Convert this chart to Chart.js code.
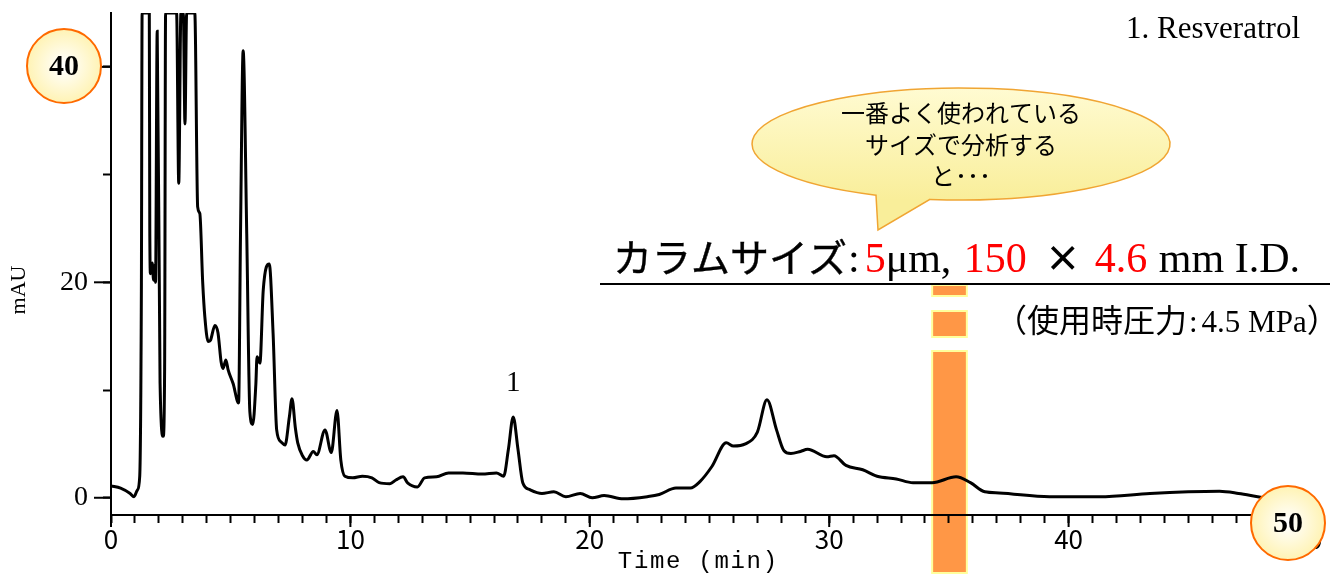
<!DOCTYPE html>
<html lang="ja">
<head>
<meta charset="utf-8">
<title>Resveratrol chromatogram</title>
<script src="https://cdn.jsdelivr.net/npm/chart.js@4.4.1/dist/chart.umd.min.js"></script>
<style>
  html, body { margin: 0; padding: 0; background: #fff; }
  #wrap { width: 1335px; height: 574px; position: relative; }
</style>
</head>
<body>
<div id="wrap"><canvas id="chromChart" width="1335" height="574"></canvas></div>
<script>
// retention time (min) / absorbance (mAU)
const timeMin = [
  0.0, 0.4, 0.8, 0.96, 1.1, 1.2, 1.27, 1.3, 1.6, 1.62, 1.65, 1.72, 1.78, 1.83, 1.86,
  1.93, 2.05, 2.18, 2.24, 2.28, 2.74, 2.83, 2.92, 3.02, 3.09, 3.16, 3.5, 3.62, 3.71,
  3.83, 3.92, 4.06, 4.15, 4.34, 4.47, 4.6, 4.68, 4.8, 4.89, 5.1, 5.33, 5.41, 5.52,
  5.67, 5.8, 5.92, 6.05, 6.1, 6.22, 6.36, 6.61, 6.77, 6.92, 7.1, 7.27, 7.45, 7.56,
  7.7, 7.8, 8.0, 8.18, 8.45, 8.6, 8.94, 9.2, 9.44, 9.6, 9.77, 10.1, 10.5, 10.9, 11.2,
  11.65, 11.9, 12.2, 12.4, 12.8, 13.1, 13.6, 14.1, 14.7, 15.5, 16.1, 16.4, 16.6, 16.8,
  17.0, 17.2, 17.5, 18.0, 18.5, 19.0, 19.6, 20.1, 20.6, 21.4, 22.4, 22.9, 23.6, 24.2,
  24.6, 25.1, 25.7, 26.0, 26.5, 27.0, 27.4, 27.8, 28.1, 28.4, 28.8, 29.1, 29.9, 30.2,
  30.7, 31.4, 32.0, 32.8, 33.5, 34.3, 35.3, 35.9, 36.5, 37.1, 39.2, 41.3, 43.4, 45.0,
  46.3, 47.1, 47.9, 49.0, 50.0
];
const absorbance = [
  1.1, 0.9, 0.4, 0.1, 0.7, 2.0, 20, 45, 45, 25, 20.8, 21.8, 20.2, 21.6, 20,
  43.3, 10.6, 5.7, 12, 45, 45, 29.2, 45, 45, 34.7, 45, 45, 27, 26.4,
  20, 16.8, 14.5, 14.6, 16, 15.3, 12.6, 12, 12.8, 11.9, 10.6, 8.8, 24.5, 41.5,
  24.5, 8, 6.8, 10.5, 13.1, 12.5, 19.3, 21.7, 15.3, 6.3, 5.2, 4.9, 7.5, 9.2,
  6.5, 5.1, 3.9, 3.5, 4.3, 4.0, 6.3, 4.2, 8.1, 3.5, 2.0, 1.85, 2.0, 1.85, 1.4,
  1.3, 1.65, 1.95, 1.35, 1.0, 1.85, 1.95, 2.3, 2.3, 2.2, 2.3, 2.0, 4.5, 7.5,
  4.5, 1.4, 0.75, 0.4, 0.55, 0.1, 0.4, 0.0, 0.2, -0.1, 0.1, 0.3, 0.9, 0.9,
  1.5, 2.9, 5.1, 4.8, 5.0, 6.1, 9.1, 6.3, 4.4, 4.1, 4.3, 4.5, 3.8, 3.9,
  3.0, 2.6, 2.0, 1.75, 1.4, 1.4, 1.95, 1.4, 0.55, 0.45, 0.1, 0.1, 0.4, 0.55,
  0.6, 0.4, 0.1, -0.3, -0.6
];
const xTicks = [0, 10, 20, 30, 40, 50];
const yTicks = [0, 20, 40];
const peakLabels = [{ t: 16.8, v: 7.5, text: '1' }];
const bandFrom = 34.3, bandTo = 35.75;   // highlighted time window

const JP = '"Noto Sans CJK JP", sans-serif';
const SERIF = '"Liberation Serif", "Times New Roman", serif';
const RED = '#ff0000';

function line(ctx, x0, y0, x1, y1) {
  ctx.beginPath(); ctx.moveTo(x0, y0); ctx.lineTo(x1, y1); ctx.stroke();
}

// draws text pieces one after another, each with its own font/colour
function drawRuns(ctx, runs, x, y) {
  runs.forEach(r => {
    x += r.before || 0;
    ctx.font = r.font;
    ctx.fillStyle = r.color || '#000';
    ctx.fillText(r.text, x, y);
    if (r.heavy) {
      ctx.strokeStyle = r.color || '#000';
      ctx.lineWidth = r.heavy;
      ctx.strokeText(r.text, x, y);
    }
    x += ctx.measureText(r.text).width + (r.after || 0);
  });
  return x;
}

function badge(ctx, cx, cy, text) {
  const g = ctx.createRadialGradient(cx, cy, 2, cx, cy, 37);
  g.addColorStop(0, '#ffffff');
  g.addColorStop(1, '#fff3b4');
  ctx.beginPath();
  ctx.arc(cx, cy, 37, 0, Math.PI * 2);
  ctx.fillStyle = g;
  ctx.fill();
  ctx.lineWidth = 2;
  ctx.strokeStyle = '#ff6a00';
  ctx.stroke();
  ctx.fillStyle = '#000';
  ctx.font = 'bold 30px ' + SERIF;
  ctx.textAlign = 'center';
  ctx.textBaseline = 'middle';
  ctx.fillText(text, cx, cy + 1);
}

// slide decorations: band, long ticks, callouts
const slideDecor = {
  id: 'slideDecor',
  beforeDraw(chart) {
    const { ctx, scales: { x } } = chart;
    const x0 = x.getPixelForValue(bandFrom), x1 = x.getPixelForValue(bandTo);
    ctx.save();
    [[284, 297], [310, 338], [350, 574]].forEach(([a, b]) => {
      ctx.fillStyle = '#ffff9c';
      ctx.fillRect(x0 - 1, a, x1 - x0 + 2, b - a);
      ctx.fillStyle = '#ff9746';
      ctx.fillRect(x0 + 1, a + 2, x1 - x0 - 2, b - a - 4);
    });
    ctx.restore();
  },
  beforeDatasetsDraw(chart) {
    const { ctx, scales: { x, y } } = chart;
    ctx.save();
    ctx.strokeStyle = '#000';
    ctx.lineWidth = 2;
    xTicks.forEach(v => { const px = x.getPixelForValue(v); line(ctx, px, x.top, px, x.top + 12); });
    yTicks.forEach(v => { const py = y.getPixelForValue(v); line(ctx, y.right - 17, py, y.right, py); });
    ctx.restore();
  },
  afterDraw(chart) {
    const { ctx, scales: { x, y } } = chart;
    ctx.save();

    // axis titles
    ctx.fillStyle = '#000';
    ctx.textAlign = 'center';
    ctx.textBaseline = 'middle';
    ctx.font = '24px "Liberation Mono", monospace';
    'Time (min)'.split('').forEach((c, i) => ctx.fillText(c, 625 + 16.1 * i, 562));
    ctx.save();
    ctx.translate(19, 290);
    ctx.rotate(-Math.PI / 2);
    ctx.font = '22px ' + SERIF;
    ctx.fillText('mAU', 0, 0);
    ctx.restore();

    // peak number
    ctx.font = '29px ' + SERIF;
    ctx.textBaseline = 'alphabetic';
    peakLabels.forEach(p => {
      ctx.fillText(p.text, x.getPixelForValue(p.t), y.getPixelForValue(p.v) - 26);
    });

    ctx.font = '31px ' + SERIF;
    ctx.textAlign = 'right';
    ctx.fillText('1. Resveratrol', 1300, 38);

    // column size line
    ctx.textAlign = 'left';
    drawRuns(ctx, [
      { text: 'カラムサイズ', font: '39px ' + JP, heavy: 0.4 },
      { text: ':', font: '42px ' + SERIF, before: 1, after: 5 },
      { text: '5', font: '42px ' + SERIF, color: RED },
      { text: 'μm, ', font: '42px ' + SERIF, after: 2 },
      { text: '150', font: '42px ' + SERIF, color: RED, after: 18 },
      { text: '×', font: 'bold 36px ' + JP, after: 14 },
      { text: '4.6', font: '42px ' + SERIF, color: RED, after: 1 },
      { text: ' mm I.D.', font: '42px ' + SERIF }
    ], 613, 272);
    ctx.strokeStyle = '#000';
    ctx.lineWidth = 2;
    line(ctx, 600, 284, 1330, 284);

    drawRuns(ctx, [
      { text: '（使用時圧力', font: '32px ' + JP },
      { text: ':', font: '31px ' + SERIF, before: 2, after: 4 },
      { text: '4.5 MPa', font: '31px ' + SERIF },
      { text: '）', font: '32px ' + JP }
    ], 995, 332);

    // speech bubble
    const cx = 961, cy = 144, rx = 209, ry = 56;
    const aR = Math.acos((930 - cx) / rx), aL = Math.acos((876 - cx) / rx);
    ctx.beginPath();
    ctx.ellipse(cx, cy, rx, ry, 0, aR, aL, true);
    ctx.lineTo(878, 230);
    ctx.closePath();
    const bg = ctx.createLinearGradient(0, cy - ry, 0, cy + ry);
    bg.addColorStop(0, '#fffbd2');
    bg.addColorStop(1, '#f9ee9a');
    ctx.fillStyle = bg;
    ctx.fill();
    ctx.lineWidth = 1.5;
    ctx.strokeStyle = '#f0a533';
    ctx.stroke();
    ctx.fillStyle = '#000';
    ctx.textAlign = 'center';
    ctx.textBaseline = 'middle';
    ctx.font = '24px ' + JP;
    ctx.fillText('一番よく使われている', 961, 113);
    ctx.fillText('サイズで分析する', 961, 145);
    ctx.fillText('と･･･', 961, 176);

    badge(ctx, 64, 66, '40');
    badge(ctx, 1288, 523, '50');
    ctx.restore();
  }
};

new Chart(document.getElementById('chromChart'), {
  type: 'line',
  data: {
    datasets: [{
      label: 'Resveratrol',
      data: timeMin.map((t, i) => ({ x: t, y: absorbance[i] })),
      borderColor: '#000',
      borderWidth: 3,
      pointRadius: 0,
      cubicInterpolationMode: 'monotone',
      fill: false
    }]
  },
  options: {
    responsive: false,
    animation: false,
    layout: { padding: { top: 13, right: 27, left: 0, bottom: 0 } },
    plugins: { legend: { display: false }, tooltip: { enabled: false } },
    scales: {
      x: {
        type: 'linear',
        min: 0,
        max: 50,
        afterBuildTicks: s => { s.ticks = Array.from({ length: 51 }, (_, i) => ({ value: i })); },
        afterFit: s => { s.height = 59; s.paddingLeft = 0; s.paddingRight = 0; },
        ticks: {
          autoSkip: false,
          maxRotation: 0,
          padding: 1,
          color: '#000',
          font: { family: JP, size: 26 },
          callback: v => xTicks.includes(v) ? String(v) : ''
        },
        grid: { drawOnChartArea: false, tickLength: 8, tickWidth: 2, color: '#000' },
        border: { color: '#000', width: 2 }
      },
      y: {
        min: -1.6,
        max: 45,
        afterBuildTicks: s => { s.ticks = [0, 10, 20, 30, 40].map(v => ({ value: v })); },
        afterFit: s => { s.width = 111; s.paddingTop = 0; s.paddingBottom = 0; },
        ticks: {
          padding: 15,
          color: '#000',
          font: { family: SERIF, size: 28 },
          callback: v => yTicks.includes(v) ? String(v) : ''
        },
        grid: { drawOnChartArea: false, tickLength: 8, tickWidth: 2, color: '#000' },
        border: { color: '#000', width: 2 }
      }
    }
  },
  plugins: [slideDecor]
});
</script>
</body>
</html>
